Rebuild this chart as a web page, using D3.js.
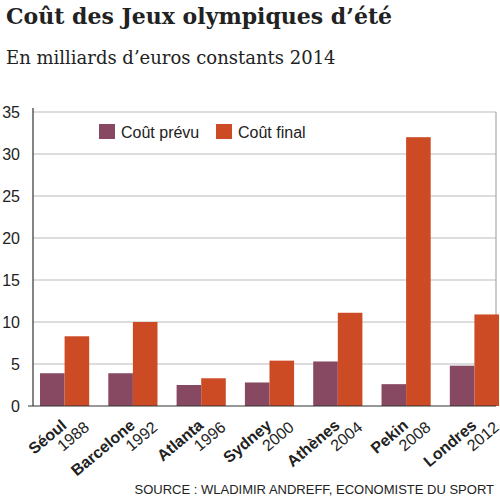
<!DOCTYPE html>
<html><head><meta charset="utf-8">
<script src="https://cdn.jsdelivr.net/npm/d3@7"></script>
<style>body{margin:0;background:#fff}</style>
</head><body>
<svg id="chart" width="500" height="500"></svg>
<script>
const villes = ['Séoul', 'Barcelone', 'Atlanta', 'Sydney', 'Athènes', 'Pekin', 'Londres']
const annees = ['1988', '1992', '1996', '2000', '2004', '2008', '2012']
const coutPrevu = [3.9, 3.9, 2.5, 2.8, 5.3, 2.6, 4.8]
const coutFinal = [8.3, 10.0, 3.3, 5.4, 11.1, 32.0, 10.9]
const yTicks = [0, 5, 10, 15, 20, 25, 30, 35]

const svg = d3.select('#chart')
const mLeft = 33, mRight = 496, mTop = 112, mBottom = 406
const sans = "'Liberation Sans', Arial, sans-serif"

svg.append('text').attr('x', 6).attr('y', 24)
  .style('font', "bold 22px 'DejaVu Serif', serif").attr('fill', '#222')
  .text('Coût des Jeux olympiques d’été')
svg.append('text').attr('x', 6).attr('y', 64)
  .style('font', "18px 'DejaVu Serif', serif").attr('fill', '#222')
  .text('En milliards d’euros constants 2014')

const x = d3.scaleBand().domain(villes).range([mLeft + 7, mRight + 3]).paddingInner(0.28)
const y = d3.scaleLinear().domain([0, 35]).range([mBottom, mTop])

// grid
svg.append('g').selectAll('line').data(yTicks.slice(1)).join('line')
  .attr('x1', mLeft).attr('x2', mRight).attr('y1', d => y(d)).attr('y2', d => y(d))
  .attr('stroke', '#bbb')
svg.append('line').attr('x1', mRight).attr('x2', mRight).attr('y1', mTop).attr('y2', mBottom).attr('stroke', '#999')

svg.append('g').selectAll('text').data(yTicks).join('text')
  .attr('x', 20).attr('y', d => y(d) + 6).attr('text-anchor', 'end')
  .style('font', `16px ${sans}`).attr('fill', '#222').text(d => d)

const bw = x.bandwidth() / 2
const g = svg.append('g')
g.selectAll('.p').data(villes).join('rect').attr('class', 'p')
  .attr('x', d => x(d)).attr('width', bw)
  .attr('y', (d, i) => y(coutPrevu[i])).attr('height', (d, i) => mBottom - y(coutPrevu[i]))
  .attr('fill', '#874862')
g.selectAll('.f').data(villes).join('rect').attr('class', 'f')
  .attr('x', d => x(d) + bw).attr('width', bw)
  .attr('y', (d, i) => y(coutFinal[i])).attr('height', (d, i) => mBottom - y(coutFinal[i]))
  .attr('fill', '#cc4b24')

svg.append('line').attr('x1', mLeft).attr('x2', mLeft).attr('y1', mTop - 4).attr('y2', mBottom).attr('stroke', '#333').attr('stroke-width', 1.2)
svg.append('line').attr('x1', 28).attr('x2', mRight).attr('y1', mBottom).attr('y2', mBottom).attr('stroke', '#333').attr('stroke-width', 1.2)

// x labels
const lab = svg.append('g').selectAll('g').data(villes).join('g')
  .attr('transform', d => `translate(${x(d) + x.bandwidth() / 2},${mBottom + 8}) rotate(-40)`)
lab.append('text').attr('x', -6).attr('y', 12).attr('text-anchor', 'end')
  .style('font', `bold 16px ${sans}`).attr('fill', '#222').text(d => d)
lab.append('text').attr('x', 10).attr('y', 28).attr('text-anchor', 'end')
  .style('font', `16px ${sans}`).attr('fill', '#222').text((d, i) => annees[i])

// legend
const legend = [['Coût prévu', '#874862', 99], ['Coût final', '#cc4b24', 216]]
legend.forEach(([t, c, lx]) => {
  svg.append('rect').attr('x', lx).attr('y', 124).attr('width', 16).attr('height', 15).attr('fill', c)
  svg.append('text').attr('x', lx + 22).attr('y', 138).style('font', `16px ${sans}`).attr('fill', '#222').text(t)
})

svg.append('text').attr('x', 494).attr('y', 494).attr('text-anchor', 'end')
  .style('font', `13px ${sans}`).attr('fill', '#222')
  .text('SOURCE : WLADIMIR ANDREFF, ECONOMISTE DU SPORT')
</script>
</body></html>
